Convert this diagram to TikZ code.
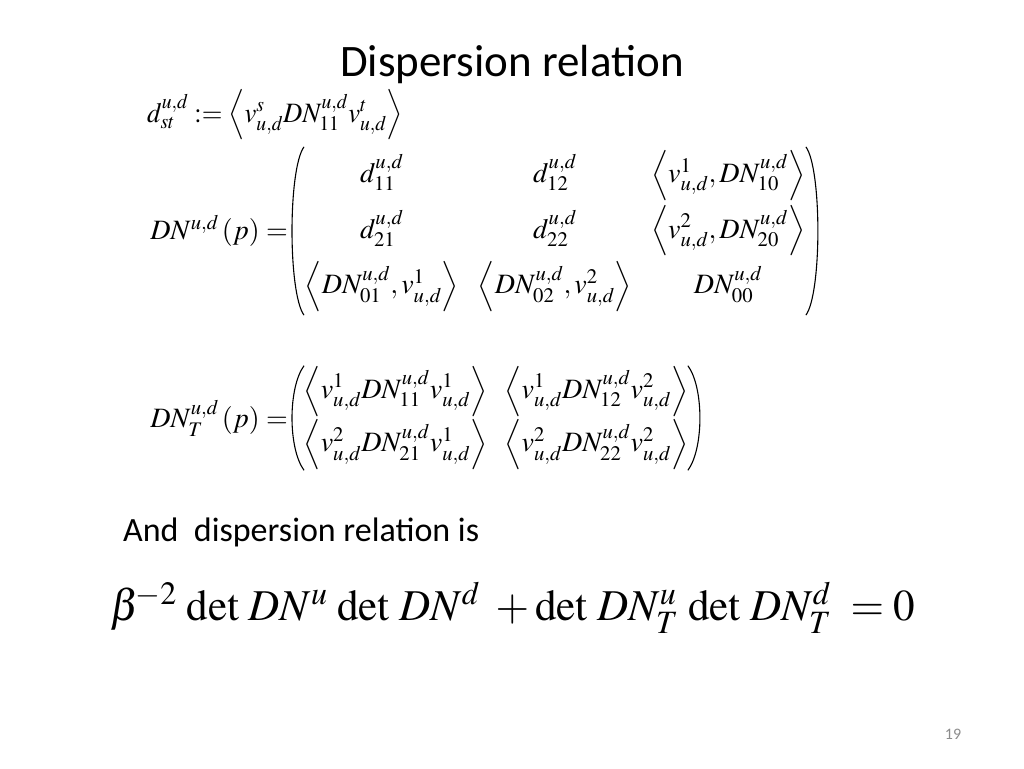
\documentclass[tikz,border=0pt]{standalone}
\usepackage{amsmath}
\usepackage{graphicx}
\usepackage[no-math]{fontspec}
\usepackage{mathptmx}
\setmainfont{Carlito}
\usetikzlibrary{positioning,calc}
\tikzset{
    titletext/.style = {inner sep=0pt, font=\fontsize{45}{50}\selectfont},
    bodytext/.style = {inner sep=0pt, anchor=west, font=\fontsize{34}{40}\selectfont},
    eqn/.style = {inner sep=0pt, anchor=west, font=\fontsize{28}{32}\selectfont},
    matbox/.style = {inner xsep=4pt, inner ysep=3pt, font=\fontsize{28}{32}\selectfont},
    bigeqn/.style = {inner sep=0pt, anchor=west, font=\fontsize{44}{50}\selectfont},
    paren/.style = {line width=1.1pt},
    pagenum/.style = {inner sep=0pt, text=black!45, font=\fontsize{16}{18}\selectfont}
}
\newcommand{\vud}[1]{v^{#1}_{u,d}}
\newcommand{\DNud}[1]{DN^{u,d}_{#1}}
% thin round brackets round a matrix node
\newcommand{\parens}[1]{%
    \draw[paren] ($(#1.north west)+(13,0)$) .. controls ($(#1.north west)+(-3,22)$) and ($(#1.south west)+(-3,-22)$) .. ($(#1.south west)+(13,0)$);
    \draw[paren] ($(#1.north east)+(-13,0)$) .. controls ($(#1.north east)+(3,22)$) and ($(#1.south east)+(3,-22)$) .. ($(#1.south east)+(-13,0)$);}

\begin{document}
\begin{tikzpicture}[x=1pt,y=-1pt]
        \fill[white] (0,0) rectangle (1024,768);
        \useasboundingbox (0,0) rectangle (1024,768);
        \node [titletext] (title) at (512,65) {Dispersion relation};
        \node [eqn] (dst) at (147,115) {\scalebox{0.95}[1]{$d^{u,d}_{st} := \left\langle \vud{s}\DNud{11}\vud{t}\right\rangle$}};
        % full matrix
        \node [matbox, anchor=west] (dnmat) at (291,231) {$\arraycolsep=9.5pt
            \begin{array}{ccc}
            d^{u,d}_{11} & d^{u,d}_{12} & \left\langle \vud{1}, \DNud{10}\right\rangle \\[14pt]
            d^{u,d}_{21} & d^{u,d}_{22} & \left\langle \vud{2}, \DNud{20}\right\rangle \\[14pt]
            \left\langle \DNud{01}, \vud{1}\right\rangle & \left\langle \DNud{02}, \vud{2}\right\rangle & \DNud{00}
            \end{array}$};
        \node [eqn, anchor=east, left=3pt of dnmat] (dnlhs) {$DN^{u,d}\,(p) =$};
        \parens{dnmat}
        % transverse matrix
        \node [matbox, inner ysep=0pt, anchor=west] (dntmat) at (291,418) {$\arraycolsep=8.5pt
            \begin{array}{cc}
            \left\langle \vud{1}\DNud{11}\vud{1}\right\rangle & \left\langle \vud{1}\DNud{12}\vud{2}\right\rangle \\[12pt]
            \left\langle \vud{2}\DNud{21}\vud{1}\right\rangle & \left\langle \vud{2}\DNud{22}\vud{2}\right\rangle
            \end{array}$};
        \node [eqn, anchor=east, left=3pt of dntmat] (dntlhs) {$DN^{u,d}_{T}\,(p) =$};
        \parens{dntmat}
        \node [bodytext] (txt) at (123,532) {And\ \ dispersion relation is};
        \node [bigeqn] (disp) at (110,608) {\scalebox{0.98}[1]{$\beta^{\!-2}\,\det\,DN^{u}\,\det\,DN^{d}\;+ \det\,DN^{u}_{T}\,\det\,DN^{d}_{T}\;= 0$}};
        \node [pagenum] (page) at (953,734) {19};
    \end{tikzpicture}
\end{document}
